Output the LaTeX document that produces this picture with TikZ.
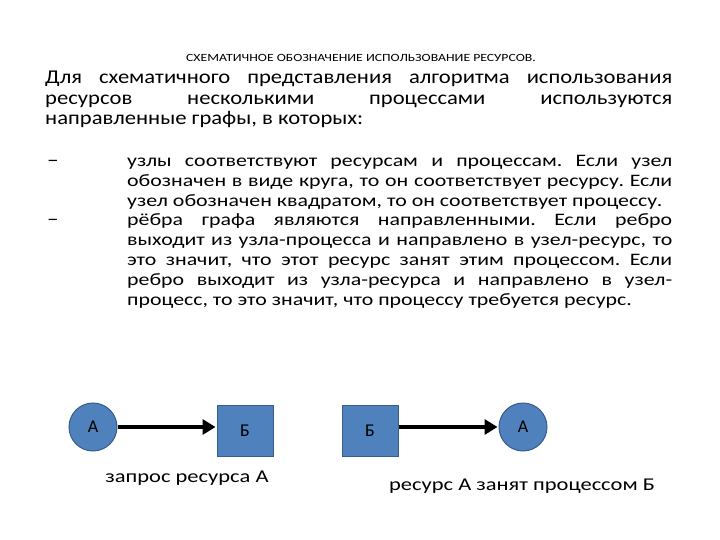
\documentclass[tikz,border=0pt]{standalone}
\usepackage{fontspec}
\setmainfont{Carlito}
\newfontfamily\widefont[FakeStretch=1.16]{Carlito}
\newfontfamily\widerfont[FakeStretch=1.25]{Carlito}
\usetikzlibrary{arrows.meta}
\definecolor{nodefill}{HTML}{4F81BD}
\definecolor{nodeline}{HTML}{385D8A}
\tikzset{
  res/.style={circle,draw=nodeline,fill=nodefill,line width=1pt,minimum size=48pt,inner sep=0pt,font=\fontsize{18}{20}\selectfont},
  proc/.style={rectangle,draw=nodeline,fill=nodefill,line width=1pt,minimum width=56pt,minimum height=51pt,inner sep=0pt,font=\fontsize{18}{20}\selectfont},
  arr/.style={line width=4pt,-{Triangle[length=13pt,width=15pt]},shorten >=1pt},
  captxt/.style={font=\widerfont\fontsize{18}{20}\selectfont,inner sep=0pt},
  body/.style={anchor=north west,inner sep=0pt,align=justify},
  dashmark/.style={inner sep=0pt,font=\widefont\fontsize{20}{20}\selectfont}
}
\begin{document}
\frenchspacing
\begin{tikzpicture}[x=1pt,y=-1pt]
\useasboundingbox (0,0) rectangle (720,540);
\node[inner sep=0pt,font=\widerfont\fontsize{11}{12}\selectfont] (title) at (361,58) {СХЕМАТИЧНОЕ ОБОЗНАЧЕНИЕ ИСПОЛЬЗОВАНИЕ РЕСУРСОВ.};
\node[body,text width=627pt,font=\widefont\fontsize{19.5}{20.5}\selectfont] (intro) at (45,71)
{Для схематичного представления алгоритма использования\linebreak ресурсов несколькими процессами используются\linebreak направленные графы, в которых:};
\node[body,text width=545pt,font=\widerfont\fontsize{17.5}{19.8}\selectfont] (items) at (127,155)
{узлы соответствуют ресурсам и процессам. Если узел\linebreak обозначен в виде круга, то он соответствует ресурсу. Если\linebreak узел обозначен квадратом, то он соответствует процессу.\\
рёбра графа являются направленными. Если ребро\linebreak выходит из узла-процесса и направлено в узел-ресурс, то\linebreak это значит, что этот ресурс занят этим процессом. Если\linebreak ребро выходит из узла-ресурса и направлено в узел-\linebreak процесс, то это значит, что процессу требуется ресурс.};
\node[dashmark] (d1) at (53,163) {–};
\node[dashmark] (d2) at (53,222) {–};
\node[res] (a1) at (93,427) {А};
\node[proc] (b1) at (245,431) {Б};
\node[proc] (b2) at (370,431) {Б};
\node[res] (a2) at (523,427) {А};
\draw[arr] (a1) -- (b1.west |- a1);
\draw[arr] (b2.east |- a2) -- (a2);
\node[captxt] (c1) at (187,478) {запрос ресурса А};
\node[captxt] (c2) at (522,486) {ресурс А занят процессом Б};
\end{tikzpicture}
\end{document}
